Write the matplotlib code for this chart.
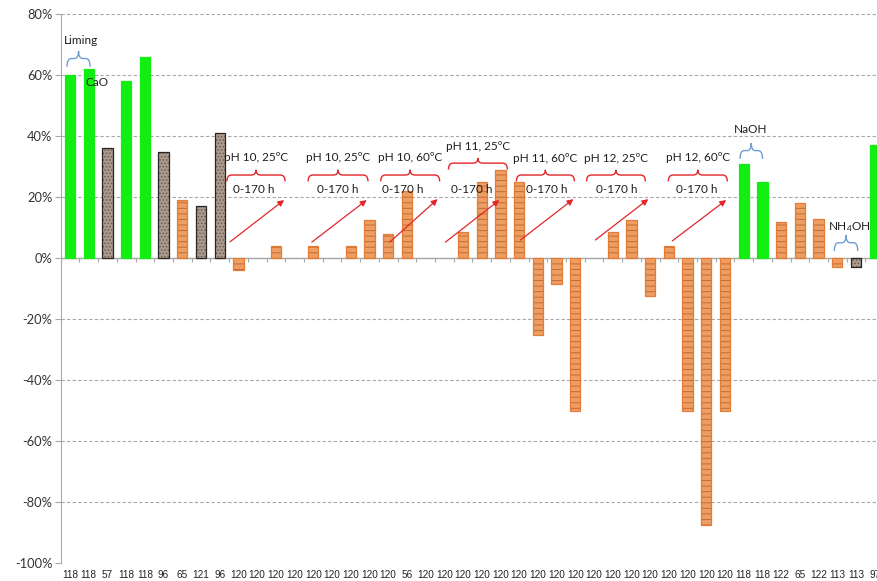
import numpy as np
import matplotlib
matplotlib.use('Agg')
from matplotlib import pyplot as plt
from matplotlib.path import Path
from matplotlib.patches import PathPatch

plt.rcParams['font.family'] = ['Lato', 'DejaVu Sans']
plt.rcParams['mathtext.default'] = 'regular'
plt.rcParams['hatch.linewidth'] = 0.7

# category labels (hours) along the x axis
hours = ['118', '118', '57', '118', '118', '96', '65', '121', '96',
         '120', '120', '120', '120', '120', '120', '120', '120', '120', '56',
         '120', '120', '120', '120', '120', '120', '120', '120', '120', '120',
         '120', '120', '120', '120', '120', '120', '120',
         '118', '118', '122', '65', '122', '113', '113', '97']

# change in %, one per category
change = [60, 62, 36, 58, 66, 35, 19, 17, 41,
          -4, 0, 4, 0, 4, 0, 4, 12.5, 8, 22,
          0, 0, 8.5, 25, 29, 25, -25, -8.5, -50, 0,
          8.5, 12.5, -12.5, 4, -50, -87.5, -50,
          31, 25, 12, 18, 13, -3, -3, 37]

# fill type of each bar
kind = ['lime', 'lime', 'stone', 'lime', 'lime', 'stone', 'wood', 'stone', 'stone',
        'wood', 'wood', 'wood', 'wood', 'wood', 'wood', 'wood', 'wood', 'wood', 'wood',
        'wood', 'wood', 'wood', 'wood', 'wood', 'wood', 'wood', 'wood', 'wood', 'wood',
        'wood', 'wood', 'wood', 'wood', 'wood', 'wood', 'wood',
        'lime', 'lime', 'wood', 'wood', 'wood', 'wood', 'stone', 'lime']

# treatment groups (red braces)
group_labels = ['pH 10, 25ºC', 'pH 10, 25ºC', 'pH 10, 60ºC', 'pH 11, 25ºC',
                'pH 11, 60ºC', 'pH 12, 25ºC', 'pH 12, 60ºC']
group_span = [(8.38, 11.49), (12.72, 15.92), (16.6, 19.75), (20.22, 23.37),
              (23.85, 26.95), (27.6, 30.74), (31.97, 35.12)]
group_brace_y = [27.3, 27.3, 27.3, 31.2, 27.3, 27.3, 27.3]
group_title_y = [33.1, 33.1, 33.1, 36.5, 32.6, 32.6, 33.1]
time_x = [9.82, 14.3, 17.8, 21.45, 25.45, 29.19, 33.51]
arrow_from = [(8.55, 5.4), (12.92, 5.3), (17.08, 5.3), (20.06, 5.3),
              (24.07, 6.0), (28.07, 6.0), (32.18, 5.7)]
arrow_to = [(11.44, 19.1), (15.85, 19.1), (19.64, 19.4), (22.94, 19.1),
            (26.9, 19.4), (30.9, 19.4), (35.06, 19.1)]

# reagent braces (blue)
reagent_labels = ['Liming', 'NaOH', 'NH$_4$OH']
reagent_span = [(-0.16, 1.07), (35.8, 37.0), (40.84, 42.09)]
reagent_brace_y = [65.5, 35.3, 5.1]
reagent_title = [(0.59, 71.4), (36.38, 42.1), (41.64, 10.2)]

fill = {'lime': '#12ee12', 'stone': '#ab9b8c', 'wood': '#ee9e62'}
edge = {'lime': '#12ee12', 'stone': '#262626', 'wood': '#e57c36'}
hatch = {'lime': None, 'stone': '.....', 'wood': '---'}
hatch_col = {'lime': '#12ee12', 'stone': '#6a5a50', 'wood': '#c06c32'}

RED = '#e2262a'
BLUE = '#6e9fd2'
GRID = '#a8a8a8'
TXT = '#1e1e1e'


def brace(ax, x0, x1, y, arm, cusp, color, r=0.25):
	xm = (x0 + x1) / 2
	verts = [(x0, y - arm), (x0, y), (x0 + r, y),
	         (xm - r, y), (xm, y), (xm, y + cusp),
	         (xm, y), (xm + r, y),
	         (x1 - r, y), (x1, y), (x1, y - arm)]
	codes = [Path.MOVETO, Path.CURVE3, Path.CURVE3,
	         Path.LINETO, Path.CURVE3, Path.CURVE3,
	         Path.CURVE3, Path.CURVE3,
	         Path.LINETO, Path.CURVE3, Path.CURVE3]
	ax.add_patch(PathPatch(Path(verts, codes), fill=False, edgecolor=color, lw=1.0, zorder=5))


fig = plt.figure(figsize=(8.77, 5.81), dpi=100)
ax = fig.add_axes([0.0692, 0.0305, 0.9308, 0.9449])

x = np.arange(len(hours))
w = 0.55
for k in ['lime', 'stone', 'wood']:
	idx = [i for i in x if kind[i] == k and change[i] != 0]
	vals = [change[i] for i in idx]
	ax.bar(idx, vals, width=w, color=fill[k], hatch=hatch[k], edgecolor=hatch_col[k], linewidth=0, zorder=3)
	ax.bar(idx, vals, width=w, fill=False, edgecolor=edge[k], linewidth=0.9, zorder=3.2)

ax.set_xlim(-0.5, 43.12)
ax.set_ylim(-100, 80)
ax.set_yticks(np.arange(-100, 81, 20))
ax.set_yticklabels([f'{v}%' for v in np.arange(-100, 81, 20)], fontsize=9.3, color='#333333')
ax.yaxis.grid(True, linestyle=(0, (3, 2)), color=GRID, linewidth=0.8)
ax.set_axisbelow(True)
ax.tick_params(axis='y', length=4, color=GRID, pad=2)

ax.set_xticks(x)
ax.set_xticklabels(hours, fontsize=7.2, color='#222222',
                   family=['Liberation Sans Narrow', 'Liberation Sans', 'DejaVu Sans'])
ax.tick_params(axis='x', length=0, pad=5)

for s in ['top', 'right', 'bottom']:
	ax.spines[s].set_visible(False)
ax.spines['left'].set_color(GRID)

# zero line with category ticks
ax.axhline(0, color=GRID, linewidth=1.0, zorder=2.5)
ax.vlines(np.arange(len(hours) + 1) - 0.5, -1.2, 0, color=GRID, linewidth=0.8, zorder=2.5)

for lab, (x0, x1), by, ty, tx, a0, a1 in zip(group_labels, group_span, group_brace_y,
                                             group_title_y, time_x, arrow_from, arrow_to):
	brace(ax, x0, x1, by, 2.1, 1.7, RED)
	ax.text((x0 + x1) / 2, ty, lab, ha='center', va='center', fontsize=8.5, color=TXT, zorder=6)
	ax.text(tx, 22.4, '0-170 h', ha='center', va='center', fontsize=8.5, color=TXT, zorder=6)
	ax.annotate('', xy=a1, xytext=a0, zorder=6,
	            arrowprops=dict(arrowstyle='-|>', color=RED, lw=0.9, mutation_scale=9,
	                            shrinkA=0, shrinkB=0))

for lab, (x0, x1), by, (tx, ty) in zip(reagent_labels, reagent_span, reagent_brace_y, reagent_title):
	brace(ax, x0, x1, by, 2.7, 2.5, BLUE, r=0.22)
	ax.text(tx, ty, lab, ha='center', va='center', fontsize=8.5, color=TXT, zorder=6)

ax.text(1.44, 57.5, 'CaO', ha='center', va='center', fontsize=8.5, color=TXT, zorder=6)

fig.savefig('out.png', dpi=100)
